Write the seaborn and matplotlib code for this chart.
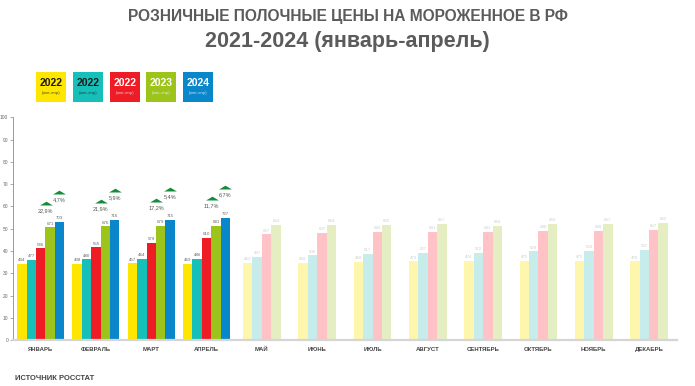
import pandas as pd
import matplotlib.pyplot as plt
import matplotlib.patches as mpatches
import seaborn as sns

# Data
months = ['ЯНВАРЬ', 'ФЕВРАЛЬ', 'МАРТ', 'АПРЕЛЬ', 'МАЙ', 'ИЮНЬ', 'ИЮЛЬ',
          'АВГУСТ', 'СЕНТЯБРЬ', 'ОКТЯБРЬ', 'НОЯБРЬ', 'ДЕКАБРЬ']
series = ['s1', 's2', 's3', 's4', 's5']
legend_years = ['2022', '2022', '2022', '2023', '2024']
legend_sub = '(янв-апр)'

# bar heights (axis units), one list per series
h_s1 = [34.2, 34.2, 34.4, 34.3, 34.7, 34.7, 35.0, 35.3, 35.6, 35.7, 35.7, 35.3]
h_s2 = [35.9, 36.2, 36.5, 36.6, 37.4, 38.0, 38.6, 39.0, 39.3, 39.8, 40.0, 40.5]
h_s3 = [41.2, 41.6, 43.6, 46.0, 47.4, 48.1, 48.4, 48.6, 48.6, 49.0, 49.0, 49.3]
h_s4 = [50.6, 51.0, 51.2, 51.4, 51.6, 51.6, 51.7, 52.2, 51.4, 52.0, 52.2, 52.5]
h_s5 = [53.0, 53.8, 54.1, 55.0]

# printed prices above bars
p_s1 = [434, 438, 457, 469, 463, 468, 468, 472, 474, 475, 475, 476]
p_s2 = [477, 480, 464, 486, 497, 506, 517, 527, 522, 529, 533, 537]
p_s3 = [546, 555, 579, 610, 627, 637, 643, 641, 643, 648, 648, 657]
p_s4 = [671, 676, 679, 681, 654, 664, 665, 667, 664, 666, 667, 665]
p_s5 = [703, 716, 715, 727]

# growth annotations (Jan-Apr)
growth_a = ['22,9%', '21,9%', '17,2%', '11,7%']
growth_b = ['4,7%', '5,9%', '5,4%', '6,7%']

colors = ['#FFE600', '#17BFB9', '#EE1C25', '#9CC41A', '#0A87CA']
colors_light = ['#FFF6AE', '#C6ECEB', '#FFC2C6', '#E4EEC2']

n_act = 4
heights = [h_s1, h_s2, h_s3, h_s4, h_s5]
prices = [p_s1, p_s2, p_s3, p_s4, p_s5]

rows_a, rows_b = [], []
for si, s in enumerate(series):
    for mi, h in enumerate(heights[si]):
        row = {'month': months[mi], 'series': s, 'value': h}
        (rows_a if mi < n_act else rows_b).append(row)
df_a = pd.DataFrame(rows_a)
df_b = pd.DataFrame(rows_b)

sns.set_theme(style='white')
plt.rcParams['font.family'] = ['Liberation Sans', 'DejaVu Sans']

fig = plt.figure(figsize=(6.95, 3.86), dpi=100)
ax = fig.add_axes([0.0187, 0.119, 0.955, 0.577])

sns.barplot(data=df_a, x='month', y='value', hue='series', order=months,
            hue_order=series, palette=colors, width=0.85, saturation=1,
            legend=False, ax=ax, linewidth=0)
n_first = len(ax.containers)
sns.barplot(data=df_b, x='month', y='value', hue='series', order=months,
            hue_order=series[:4], palette=colors_light, width=0.68, saturation=1,
            legend=False, ax=ax, linewidth=0)

# value labels
for ci, cont in enumerate(ax.containers):
    si = ci if ci < n_first else ci - n_first
    faded = ci >= n_first
    for bar in cont:
        xc = bar.get_x() + bar.get_width() / 2
        mi = int(round(xc))
        ax.text(xc, bar.get_height() + 0.8, str(prices[si][mi]),
                ha='center', va='bottom', fontsize=3.2,
                color='#cfcfcf' if faded else '#666666')

# growth triangles
tri = [(-1, 0), (1, 0), (0, 0.6)]
for mi in range(n_act):
    top = max(heights[si][mi] for si in range(5))
    yb = top + 12.7
    ya = yb - 4.9
    ax.scatter([mi + 0.09, mi + 0.34], [ya, yb], marker=tri, s=85,
               color='#148C3C', linewidths=0, zorder=3)
    ax.text(mi + 0.09, ya - 1.5, growth_a[mi], ha='center', va='top',
            fontsize=4, color='#555555')
    ax.text(mi + 0.34, yb - 1.5, growth_b[mi], ha='center', va='top',
            fontsize=4, color='#555555')

ax.set_xlim(-0.5, 11.5)
ax.set_ylim(0, 100)
ax.set_yticks(range(0, 101, 10))
ax.set_xlabel('')
ax.set_ylabel('')
ax.tick_params(axis='x', length=0, pad=5, labelsize=4.3, labelcolor='#444444')
ax.tick_params(axis='y', length=2, width=0.5, color='#888888', pad=1.5,
               labelsize=3.5, labelcolor='#666666', left=True)
for lab in ax.get_xticklabels():
    lab.set_fontweight('bold')
for side in ['top', 'right']:
    ax.spines[side].set_visible(False)
ax.spines['bottom'].set_color('#d5d5d5')
ax.spines['bottom'].set_linewidth(1.6)
ax.spines['left'].set_color('#999999')
ax.spines['left'].set_linewidth(0.7)

# titles
fig.text(0.5, 0.958, 'РОЗНИЧНЫЕ ПОЛОЧНЫЕ ЦЕНЫ НА МОРОЖЕННОЕ В РФ', ha='center',
         va='center', fontsize=11.2, fontweight='bold', color='#5b5b5b')
fig.text(0.5, 0.893, '2021-2024 (январь-апрель)', ha='center', va='center',
         fontsize=15.5, fontweight='bold', color='#5b5b5b')

# legend boxes
W, H = 695, 386
box_x = [36, 73, 110, 146, 183]
text_dark = ['#1a1a1a', '#1a1a1a', 'white', 'white', 'white']
for i in range(5):
    fig.patches.append(mpatches.Rectangle((box_x[i] / W, 1 - 102 / H), 30 / W, 30 / H,
                                          transform=fig.transFigure,
                                          facecolor=colors[i], edgecolor='none'))
    fig.text((box_x[i] + 15) / W, 1 - 83 / H, legend_years[i], ha='center',
             va='center', fontsize=7.5, fontweight='bold', color=text_dark[i])
    fig.text((box_x[i] + 15) / W, 1 - 93 / H, legend_sub, ha='center',
             va='center', fontsize=3.2, color=text_dark[i], alpha=0.7)

fig.text(15 / W, 1 - 379 / H, 'ИСТОЧНИК РОССТАТ', ha='left', va='center',
         fontsize=5.5, fontweight='bold', color='#444444')

fig.savefig('out.png', dpi=100)
